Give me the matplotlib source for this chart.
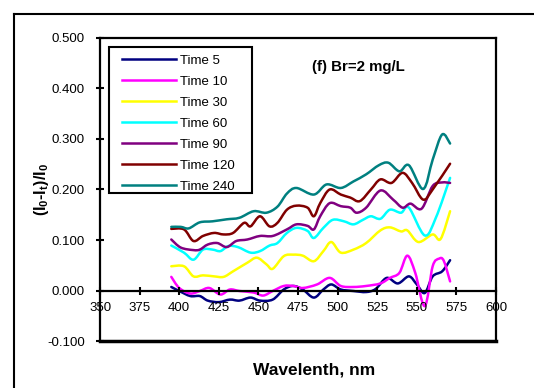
import matplotlib
matplotlib.use("Agg")
import matplotlib.pyplot as plt
import numpy as np
from matplotlib.lines import Line2D
from matplotlib.path import Path
from matplotlib.patches import PathPatch, Rectangle

plt.rcParams['font.family'] = ['Liberation Sans', 'DejaVu Sans']
plt.rcParams['mathtext.fontset'] = 'custom'
plt.rcParams['mathtext.rm'] = 'Liberation Sans'
plt.rcParams['mathtext.bf'] = 'Liberation Sans:bold'

# values
wl_5 = [395, 400, 407, 413, 418, 425, 432, 438, 445, 451, 459, 466, 472, 478, 485,
        491, 496, 502, 510, 518, 524, 531, 538, 545, 550, 555, 560, 566, 571]
ab_5 = [0.007, -0.001, -0.011, -0.011, -0.020, -0.023, -0.018, -0.020, -0.014, -0.020,
        -0.018, 0.002, 0.009, 0.002, -0.014, 0.002, 0.012, 0.002, -0.001, -0.003,
        0.003, 0.025, 0.014, 0.028, 0.012, -0.005, 0.028, 0.038, 0.060]

wl_10 = [395, 400, 407, 413, 419, 426, 432, 438, 447, 453, 459, 466, 472, 478, 487,
         495, 502, 510, 518, 527, 533, 539, 544, 549, 555, 560, 564, 567, 571]
ab_10 = [0.027, 0.005, -0.006, -0.001, 0.005, -0.008, 0.002, -0.001, -0.004, -0.010,
         -0.001, 0.009, 0.009, 0.005, 0.012, 0.025, 0.009, 0.007, 0.009, 0.014,
         0.025, 0.035, 0.069, 0.035, -0.031, 0.048, 0.063, 0.059, 0.018]

wl_30 = [395, 403, 409, 415, 422, 428, 434, 443, 449, 455, 459, 466, 472, 478,
         485, 491, 496, 502, 510, 518, 527, 533, 540, 544, 551, 560, 565, 571]
ab_30 = [0.048, 0.048, 0.028, 0.030, 0.028, 0.027, 0.038, 0.055, 0.065, 0.052,
         0.043, 0.068, 0.071, 0.069, 0.058, 0.078, 0.096, 0.075, 0.081, 0.094,
         0.119, 0.125, 0.117, 0.119, 0.096, 0.111, 0.102, 0.157]

wl_60 = [395, 403, 409, 415, 421, 426, 431, 437, 445, 451, 457, 462, 468, 474, 481,
         485, 491, 497, 504, 510, 516, 521, 527, 533, 540, 545, 555, 562, 571]
ab_60 = [0.089, 0.075, 0.061, 0.081, 0.081, 0.078, 0.088, 0.086, 0.075, 0.078,
         0.089, 0.094, 0.114, 0.124, 0.118, 0.104, 0.124, 0.140, 0.137, 0.131,
         0.140, 0.147, 0.142, 0.160, 0.154, 0.164, 0.109, 0.144, 0.223]

wl_90 = [395, 401, 409, 413, 418, 424, 430, 436, 443, 451, 459, 468, 474, 481, 485,
         489, 495, 502, 508, 512, 518, 527, 535, 541, 546, 553, 560, 566, 571]
ab_90 = [0.101, 0.085, 0.080, 0.081, 0.091, 0.094, 0.086, 0.098, 0.101, 0.108,
         0.108, 0.121, 0.131, 0.128, 0.121, 0.147, 0.173, 0.167, 0.164, 0.154,
         0.164, 0.198, 0.180, 0.164, 0.172, 0.162, 0.207, 0.214, 0.213]

wl_120 = [395, 403, 409, 415, 422, 428, 434, 441, 445, 451, 457, 462, 468, 474, 481,
          485, 489, 495, 502, 508, 514, 521, 527, 534, 541, 547, 554, 560, 571]
ab_120 = [0.122, 0.121, 0.098, 0.108, 0.114, 0.111, 0.114, 0.134, 0.127, 0.147,
          0.127, 0.134, 0.160, 0.168, 0.164, 0.147, 0.173, 0.200, 0.190, 0.184,
          0.177, 0.200, 0.220, 0.213, 0.233, 0.213, 0.180, 0.200, 0.251]

wl_240 = [395, 401, 406, 413, 421, 430, 438, 447, 455, 462, 468, 474, 485, 493,
          502, 510, 518, 526, 532, 539, 545, 554, 560, 566, 571]
ab_240 = [0.126, 0.126, 0.123, 0.135, 0.137, 0.141, 0.144, 0.157, 0.154, 0.166,
          0.192, 0.203, 0.190, 0.210, 0.203, 0.216, 0.230, 0.248, 0.253, 0.236,
          0.248, 0.201, 0.259, 0.309, 0.291]

labels = ['Time 5', 'Time 10', 'Time 30', 'Time 60', 'Time 90', 'Time 120', 'Time 240']
colors = ['#000080', '#FF00FF', '#FFFF00', '#00FFFF', '#800080', '#800000', '#008080']
x_ticks = [350, 375, 400, 425, 450, 475, 500, 525, 550, 575, 600]
y_ticks = [-0.1, 0.0, 0.1, 0.2, 0.3, 0.4, 0.5]

series = [(wl_5, ab_5), (wl_10, ab_10), (wl_30, ab_30), (wl_60, ab_60),
          (wl_90, ab_90), (wl_120, ab_120), (wl_240, ab_240)]


def smooth_path(x, y):
    # Excel-like "smoothed line": cubic Bezier pieces through the points
    p = np.column_stack([x, y]).astype(float)
    n = len(p)
    verts = [p[0]]
    codes = [Path.MOVETO]
    for i in range(n - 1):
        p_prev = p[i - 1] if i > 0 else p[i]
        p_next2 = p[i + 2] if i + 2 < n else p[i + 1]
        c1 = p[i] + (p[i + 1] - p_prev) / 6.0
        c2 = p[i + 1] - (p_next2 - p[i]) / 6.0
        verts += [c1, c2, p[i + 1]]
        codes += [Path.CURVE4] * 3
    return Path(verts, codes)


fig = plt.figure(figsize=(5.34, 3.88), dpi=100)
ax = fig.add_axes([0.1873, 0.1211, 0.7416, 0.781])

handles = []
for (wl, ab), lab, col in zip(series, labels, colors):
    ax.add_patch(PathPatch(smooth_path(wl, ab), fill=False, edgecolor=col, lw=1.8,
                           capstyle='round', joinstyle='round'))
    handles.append(Line2D([], [], color=col, lw=1.8, label=lab))

ax.set_xlim(350, 600)
ax.set_ylim(-0.1, 0.5)
ax.set_xticks(x_ticks)
ax.set_yticks(y_ticks)
ax.set_yticklabels(['%.3f' % v for v in y_ticks])

# x axis crosses at zero, box closed at the bottom
ax.spines['bottom'].set_position(('data', 0))
for s in ax.spines.values():
    s.set_linewidth(1.6)
ax.axhline(-0.1, color='k', lw=2.5, clip_on=False)

ax.tick_params(axis='x', direction='inout', length=6, width=1.5, labelsize=9.5, pad=5)
ax.tick_params(axis='y', direction='inout', length=6, width=1.5, labelsize=9.5, pad=8)

fig.text(314 / 534, 1 - 370 / 388, 'Wavelenth, nm', fontsize=12.5, fontweight='bold',
         ha='center', va='center')
ax.set_ylabel(r'$\mathbf{(I_0}$-$\mathbf{I_t)/I_0}$', fontsize=11.5, fontweight='bold')
ax.yaxis.set_label_coords(-0.125, 0.5)

ax.text(0.535, 0.905, '(f) Br=2 mg/L', transform=ax.transAxes, fontsize=10.8,
        fontweight='bold', va='center')

# legend box drawn separately so its padding matches the reference
ax.add_patch(Rectangle((0.0227, 0.4884), 0.361, 0.4818, transform=ax.transAxes,
                       facecolor='white', edgecolor='black', lw=1.5, zorder=4))
leg = ax.legend(handles=handles, loc='upper left', bbox_to_anchor=(0.0556, 0.945),
                borderaxespad=0, borderpad=0, fontsize=9.5, handlelength=4.1,
                handletextpad=0.3, labelspacing=0.66, frameon=False)
leg.set_zorder(5)

# outer chart border (top and left edges visible)
fig.add_artist(Line2D([0.0262, 1.0], [0.9639, 0.9639], color='k', lw=1.5))
fig.add_artist(Line2D([0.0262, 0.0262], [0.0, 0.9639], color='k', lw=1.5))

fig.savefig('out.png', dpi=100)
